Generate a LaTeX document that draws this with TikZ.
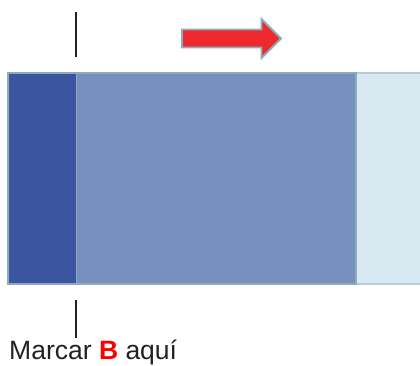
\documentclass[tikz,border=0pt]{standalone}
\usepackage{fontspec}
\setmainfont{Liberation Sans}
\definecolor{darkblue}{HTML}{3B55A0}
\definecolor{midblue}{HTML}{7890C0}
\definecolor{lightblue}{HTML}{D8E9F1}
\definecolor{edgeblue}{HTML}{8DABBB}
\definecolor{edgelight}{HTML}{B5CCD8}
\definecolor{arrowred}{HTML}{EE2A2E}
\definecolor{txtgrey}{HTML}{222222}
\tikzset{
  tick/.style={line width=2.2pt, txtgrey},
  bigarrow/.style={draw=edgeblue, fill=arrowred, line width=1.8pt, line join=miter}
}
\begin{document}
\begin{tikzpicture}[x=1pt,y=-1pt]
\useasboundingbox (0,0) rectangle (420,365);
% light band (extends beyond right edge)
\fill[lightblue] (356,73) rectangle (425,284);
\draw[edgelight, line width=2pt] (356,73) -- (425,73);
\draw[edgelight, line width=2pt] (356,284) -- (425,284);
% medium and dark blocks
\fill[midblue] (8,73) rectangle (356,284);
\fill[darkblue] (9,73) rectangle (76,284);
\draw[edgeblue, line width=1pt] (76,73) -- (76,284);
\draw[edgeblue, line width=2pt] (8,73) rectangle (356,284);
% ticks
\coordinate (t1) at (76,12);
\coordinate (t2) at (76,57);
\coordinate (b1) at (76,300);
\coordinate (b2) at (76,338);
\draw[tick] (t1) -- (t2);
\draw[tick] (b1) -- (b2);
% arrow
\draw[bigarrow] (182,29.5) -- (261.5,29.5) -- (261.5,19) -- (281,38.5) -- (261.5,58) -- (261.5,47.5) -- (182,47.5) -- cycle;
% label
\node[anchor=base west, inner sep=0pt, font=\fontsize{26.5}{30}\selectfont, text=txtgrey] (lbl) at (9,359)
  {Marcar \textcolor{red}{\textbf{B}} aquí};
\end{tikzpicture}
\end{document}
